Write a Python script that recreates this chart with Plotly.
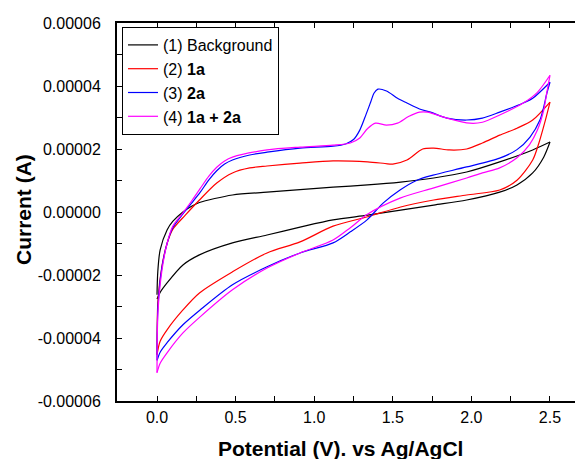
import plotly.graph_objects as go

# ---- data (potential in V, current in microamps; converted to A below) ----
bg_fwd_v = [0.0, 0.005, 0.02, 0.064, 0.10, 0.165, 0.22, 0.27, 0.48, 0.70, 0.91, 1.12, 1.34, 1.55, 1.76, 1.97, 2.18, 2.39, 2.5]
bg_fwd_i = [-26.3, -19, -12, -5.7, -3.0, 0.0, 1.8, 3.0, 5.4, 6.3, 7.1, 7.9, 8.6, 9.5, 10.8, 12.7, 15.9, 19.7, 22.2]
bg_rev_v = [2.5, 2.46, 2.39, 2.29, 2.18, 1.97, 1.76, 1.55, 1.34, 1.12, 0.91, 0.70, 0.48, 0.27, 0.165, 0.064, 0.02, 0.0]
bg_rev_i = [22.2, 17.4, 12.4, 8.6, 6.3, 3.8, 2.2, 0.6, -1.0, -2.5, -4.8, -7.3, -9.8, -13.6, -16.8, -22.5, -25.5, -27.6]

a1_fwd_v = [0.0, 0.006, 0.032, 0.064, 0.10, 0.18, 0.27, 0.38, 0.48, 0.59, 0.70, 0.91, 1.12, 1.34, 1.45, 1.50, 1.59, 1.69, 1.76, 1.86, 1.97, 2.07, 2.18, 2.29, 2.39, 2.5]
a1_fwd_i = [-45.3, -28, -17, -10, -5.5, -1.0, 3.8, 9.2, 12.4, 14.0, 14.6, 15.5, 16.2, 15.9, 15.4, 15.2, 16.5, 20.0, 20.3, 19.7, 20.0, 21.9, 24.4, 26.6, 29.2, 34.9]
a1_rev_v = [2.5, 2.47, 2.43, 2.39, 2.29, 2.18, 1.97, 1.76, 1.55, 1.34, 1.12, 0.91, 0.70, 0.48, 0.27, 0.165, 0.064, 0.02, 0.0]
a1_rev_i = [34.9, 29.0, 22.0, 16.5, 10.1, 7.0, 5.4, 3.8, 1.6, -1.5, -4.5, -9.5, -13.0, -19.0, -25.7, -31.1, -37.4, -41.0, -45.3]

a2_fwd_v = [0.0, 0.006, 0.03, 0.064, 0.10, 0.165, 0.22, 0.274, 0.33, 0.38, 0.43, 0.48, 0.59, 0.70, 0.91, 1.12, 1.20, 1.25, 1.29, 1.33, 1.36, 1.38, 1.405, 1.46, 1.53, 1.59, 1.67, 1.74, 1.845, 1.97, 2.07, 2.18, 2.33, 2.39, 2.5]
a2_fwd_i = [-47, -30, -18, -10, -5, -0.6, 2.8, 6.2, 10.2, 13.1, 15.2, 16.5, 18.1, 19.0, 20.3, 20.9, 21.6, 23.0, 26.0, 31.0, 35.0, 37.7, 39.0, 38.4, 36.1, 34.6, 32.7, 31.7, 29.8, 29.2, 29.8, 31.7, 34.6, 36.1, 41.2]
a2_rev_v = [2.5, 2.48, 2.46, 2.436, 2.373, 2.29, 2.18, 1.97, 1.756, 1.654, 1.546, 1.44, 1.336, 1.23, 1.12, 0.91, 0.70, 0.48, 0.274, 0.165, 0.064, 0.02, 0.0]
a2_rev_i = [41.2, 37.7, 33.3, 29.2, 23.8, 19.8, 17.1, 14.3, 11.7, 10.1, 7.0, 2.9, -2.5, -6.3, -9.8, -13.0, -17.4, -23.1, -31.1, -35.8, -41.5, -44.5, -47.2]

mix_fwd_v = [0.0, 0.006, 0.03, 0.064, 0.10, 0.165, 0.22, 0.274, 0.33, 0.38, 0.43, 0.48, 0.70, 0.91, 1.12, 1.23, 1.29, 1.34, 1.39, 1.46, 1.53, 1.60, 1.67, 1.72, 1.845, 1.99, 2.07, 2.18, 2.33, 2.42, 2.5]
mix_fwd_i = [-51, -32, -19, -10, -4.5, -0.3, 3.5, 7.4, 11.4, 14.2, 16.2, 17.4, 19.7, 20.6, 21.2, 21.9, 23.5, 26.5, 28.2, 27.6, 28.2, 30.3, 31.7, 31.7, 29.8, 28.2, 28.5, 30.8, 34.6, 38.0, 43.4]
mix_rev_v = [2.5, 2.48, 2.46, 2.42, 2.37, 2.29, 2.18, 2.07, 1.97, 1.756, 1.546, 1.336, 1.23, 1.12, 0.91, 0.70, 0.48, 0.274, 0.165, 0.064, 0.02, 0.0]
mix_rev_i = [43.4, 38.0, 32.3, 26.0, 21.4, 17.2, 14.0, 12.4, 10.8, 7.6, 4.4, -0.8, -5.0, -8.9, -13.0, -17.8, -24.7, -33.3, -38.4, -44.7, -48.0, -51.0]

series_names = ["(1) Background", "(2) <b>1a</b>", "(3) <b>2a</b>", "(4) <b>1a + 2a</b>"]
series_colors = ["#000000", "#ff0000", "#0000ff", "#ff00ff"]

x_tick_vals = [0.0, 0.5, 1.0, 1.5, 2.0, 2.5]
x_tick_text = ["0.0", "0.5", "1.0", "1.5", "2.0", "2.5"]
y_tick_vals = [-0.00006, -0.00004, -0.00002, 0.0, 0.00002, 0.00004, 0.00006]
y_tick_text = ["-0.00006", "-0.00004", "-0.00002", "0.00000", "0.00002", "0.00004", "0.00006"]

UA = 1e-6
curves = [
    (bg_fwd_v, bg_fwd_i, bg_rev_v, bg_rev_i),
    (a1_fwd_v, a1_fwd_i, a1_rev_v, a1_rev_i),
    (a2_fwd_v, a2_fwd_i, a2_rev_v, a2_rev_i),
    (mix_fwd_v, mix_fwd_i, mix_rev_v, mix_rev_i),
]

fig = go.Figure()
for k, (fv, fi, rv, ri) in enumerate(curves):
    for j, (vv, ii) in enumerate([(fv, fi), (rv, ri)]):
        fig.add_trace(go.Scatter(
            x=vv, y=[i * UA for i in ii], mode="lines",
            line=dict(color=series_colors[k], width=1.2, shape="spline", smoothing=0.8),
            name=series_names[k], legendgroup=str(k), showlegend=(j == 0),
        ))

FONT = "Arial, Liberation Sans, sans-serif"
O = 8  # default page body margin
W, H = 583 - O, 459 - O
L, T, B = 117 - O, 23 - O, 58
pw = W - L
ph = H - T - B


def px_x(page_x):
    return (page_x - O - L) / pw


def px_y(page_y):
    return (H - B - (page_y - O)) / ph


fig.update_layout(
    width=W, height=H,
    margin=dict(l=L, r=0, t=T, b=B, pad=0),
    paper_bgcolor="white", plot_bgcolor="white",
    font=dict(family=FONT, color="black", size=16),
    showlegend=True,
    legend=dict(
        x=px_x(122), y=px_y(27), xanchor="left", yanchor="top",
        bgcolor="white", bordercolor="black", borderwidth=1,
        font=dict(family=FONT, size=16, color="black"),
        tracegroupgap=0, itemwidth=30,
    ),
    annotations=[
        dict(text="<b>Potential (V). vs Ag/AgCl</b>", xref="paper", yref="paper",
             x=px_x(340), y=px_y(448), xanchor="center", yanchor="middle",
             showarrow=False, font=dict(family=FONT, size=21, color="black")),
        dict(text="<b>Current (A)</b>", xref="paper", yref="paper", textangle=-90,
             x=px_x(24), y=px_y(210), xanchor="center", yanchor="middle",
             showarrow=False, font=dict(family=FONT, size=21, color="black")),
    ],
)

fig.update_xaxes(
    range=[-0.2545, 2.71], tickvals=x_tick_vals, ticktext=x_tick_text,
    ticks="inside", ticklen=5, tickwidth=1, tickcolor="black",
    showline=True, linecolor="black", linewidth=2, mirror="allticks",
    showgrid=False, zeroline=False,
    minor=dict(dtick=0.25, tick0=0, ticks="inside", ticklen=5, tickwidth=1, tickcolor="black", showgrid=False),
    tickfont=dict(family=FONT, size=16, color="black"), ticklabelstandoff=1,
)
fig.update_yaxes(
    range=[-0.00006, 0.00006], tickvals=y_tick_vals, ticktext=y_tick_text,
    ticks="inside", ticklen=5, tickwidth=1, tickcolor="black",
    showline=True, linecolor="black", linewidth=2, mirror=False,
    showgrid=False, zeroline=False,
    minor=dict(dtick=0.00001, tick0=0, ticks="inside", ticklen=5, tickwidth=1, tickcolor="black", showgrid=False),
    tickfont=dict(family=FONT, size=16, color="black"), ticklabelstandoff=11,
)

fig.write_html("out.html")
